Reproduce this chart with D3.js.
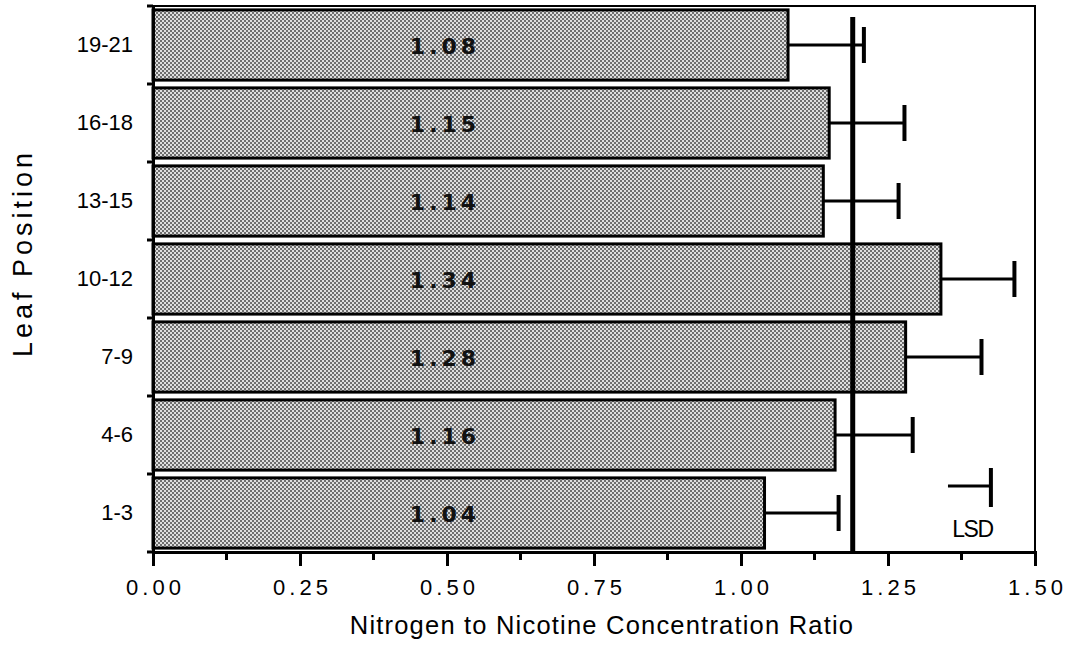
<!DOCTYPE html>
<html>
<head>
<meta charset="utf-8">
<script src="https://cdn.jsdelivr.net/npm/d3@7"></script>
<style>
  body { margin: 0; background: #fff; }
  svg { display: block; font-family: "Liberation Sans", Arial, Helvetica, sans-serif; }
</style>
</head>
<body>
<div id="chart"></div>
<script>
// data, top to bottom as drawn
const positions = ["19-21", "16-18", "13-15", "10-12", "7-9", "4-6", "1-3"];
const ratios = [1.08, 1.15, 1.14, 1.34, 1.28, 1.16, 1.04];
const errors = [0.129, 0.128, 0.128, 0.125, 0.129, 0.132, 0.126];
const xTicks = [0, 0.25, 0.5, 0.75, 1.0, 1.25, 1.5];
const xMinorTicks = [0.125, 0.375, 0.625, 0.875, 1.125, 1.375];
const meanLine = 1.19;
const lsd = 0.073;
const lsdEnd = 1.425;
const valueLabelAt = 0.5;

const width = 1069, height = 649;
const margin = { top: 6, right: 34, bottom: 97, left: 153 };
const regular = "'Liberation Sans', Arial, sans-serif";

const svg = d3
  .select("#chart")
  .append("svg")
  .attr("width", width)
  .attr("height", height);

// dithered grey fill like the scanned halftone
const defs = svg.append("defs");
const pat = defs
  .append("pattern")
  .attr("id", "dots")
  .attr("patternUnits", "userSpaceOnUse")
  .attr("width", 4)
  .attr("height", 4);
pat.append("rect").attr("width", 4).attr("height", 4).attr("fill", "#dedede");
pat.append("rect").attr("width", 2).attr("height", 2).attr("fill", "#6e6e6e");
pat.append("rect").attr("x", 2).attr("y", 2).attr("width", 2).attr("height", 2).attr("fill", "#6e6e6e");

const x = d3
  .scaleLinear()
  .domain([0, 1.5])
  .range([margin.left, width - margin.right]);

const y = d3
  .scaleBand()
  .domain(positions)
  .range([margin.top, height - margin.bottom])
  .paddingInner(0.1)
  .paddingOuter(0.05);

const step = y.step();
const bottomY = height - margin.bottom;

// frame: top and right border
svg
  .append("path")
  .attr("d", `M${x(0)},${margin.top}H${x(1.5)}V${bottomY}`)
  .attr("fill", "none")
  .attr("stroke", "#000")
  .attr("stroke-width", 2);

// bars
const data = positions.map((p, i) => ({ pos: p, value: ratios[i], err: errors[i] }));

svg
  .append("g")
  .selectAll("rect")
  .data(data)
  .join("rect")
  .attr("x", x(0))
  .attr("y", (d) => y(d.pos))
  .attr("width", (d) => x(d.value) - x(0))
  .attr("height", y.bandwidth())
  .attr("fill", "url(#dots)")
  .attr("stroke", "#000")
  .attr("stroke-width", 3);

// value labels
svg
  .append("g")
  .selectAll("text")
  .data(data)
  .join("text")
  .attr("x", x(valueLabelAt) - 2)
  .attr("y", (d) => y(d.pos) + y.bandwidth() / 2 + 9)
  .attr("text-anchor", "middle")
  .attr("font-family", "'DejaVu Sans', sans-serif")
  .attr("font-size", 22)
  .attr("font-weight", "bold")
  .attr("letter-spacing", 4)
  .attr("fill", "#111")
  .text((d) => d.value.toFixed(2));

// error bars
const eb = svg.append("g").attr("stroke", "#000");
eb.selectAll("line.h")
  .data(data)
  .join("line")
  .attr("class", "h")
  .attr("x1", (d) => x(d.value))
  .attr("x2", (d) => x(d.value + d.err))
  .attr("y1", (d) => y(d.pos) + y.bandwidth() / 2)
  .attr("y2", (d) => y(d.pos) + y.bandwidth() / 2)
  .attr("stroke-width", 3);
eb.selectAll("line.cap")
  .data(data)
  .join("line")
  .attr("class", "cap")
  .attr("x1", (d) => x(d.value + d.err))
  .attr("x2", (d) => x(d.value + d.err))
  .attr("y1", (d) => y(d.pos) + y.bandwidth() / 2 - 18)
  .attr("y2", (d) => y(d.pos) + y.bandwidth() / 2 + 18)
  .attr("stroke-width", 4);

// vertical reference line
svg
  .append("line")
  .attr("x1", x(meanLine))
  .attr("x2", x(meanLine))
  .attr("y1", margin.top + 11)
  .attr("y2", bottomY)
  .attr("stroke", "#000")
  .attr("stroke-width", 5);

// LSD marker
const lsdY = y("1-3") + y.bandwidth() / 2 - 27;
svg
  .append("line")
  .attr("x1", x(lsdEnd - lsd))
  .attr("x2", x(lsdEnd))
  .attr("y1", lsdY)
  .attr("y2", lsdY)
  .attr("stroke", "#000")
  .attr("stroke-width", 3);
svg
  .append("line")
  .attr("x1", x(lsdEnd))
  .attr("x2", x(lsdEnd))
  .attr("y1", lsdY - 18)
  .attr("y2", lsdY + 21)
  .attr("stroke", "#000")
  .attr("stroke-width", 4);
svg
  .append("text")
  .attr("x", x(lsdEnd - lsd / 2) + 3)
  .attr("y", lsdY + 51)
  .attr("text-anchor", "middle")
  .style("font-family", regular)
  .style("font-size", "23px")
  .attr("letter-spacing", -1.5)
  .text("LSD");

// x axis
const xAxis = svg
  .append("g")
  .attr("transform", `translate(0,${bottomY})`)
  .call(d3.axisBottom(x).tickValues(xTicks).tickSize(14).tickFormat(d3.format(".2f")));
xAxis.select(".domain").attr("stroke-width", 3);
xAxis.selectAll(".tick line").attr("stroke-width", 3);
xAxis
  .selectAll(".tick text")
  .style("font-family", regular)
  .style("font-size", "22px")
  .attr("letter-spacing", 4)
  .attr("dx", 2)
  .attr("dy", "1.2em")
  .attr("fill", "#000");

svg
  .append("g")
  .selectAll("line")
  .data(xMinorTicks)
  .join("line")
  .attr("x1", (d) => x(d))
  .attr("x2", (d) => x(d))
  .attr("y1", bottomY)
  .attr("y2", bottomY + 8)
  .attr("stroke", "#000")
  .attr("stroke-width", 3);

// y axis: ticks sit in the gaps between bars
const yAxis = svg
  .append("g")
  .attr("transform", `translate(${x(0)},0)`)
  .call(d3.axisLeft(y).tickSize(0).tickPadding(20));
yAxis.select(".domain").attr("stroke-width", 3);
yAxis
  .selectAll(".tick text")
  .style("font-family", regular)
  .style("font-size", "22px")
  .attr("fill", "#000");

const boundaries = positions.map((p) => y(p) - (step * y.paddingInner()) / 2);
boundaries[0] = margin.top;
boundaries.push(bottomY);
svg
  .append("g")
  .selectAll("line")
  .data(boundaries)
  .join("line")
  .attr("x1", x(0) - 6)
  .attr("x2", x(0))
  .attr("y1", (d) => d)
  .attr("y2", (d) => d)
  .attr("stroke", "#000")
  .attr("stroke-width", 3);

// axis titles
svg
  .append("text")
  .attr("x", (x(0) + x(1.5)) / 2 + 8)
  .attr("y", height - 15)
  .attr("text-anchor", "middle")
  .style("font-family", regular)
  .style("font-size", "25.5px")
  .attr("letter-spacing", 1.2)
  .text("Nitrogen to Nicotine Concentration Ratio");

svg
  .append("text")
  .attr("transform", `translate(32,${253}) rotate(-90)`)
  .attr("text-anchor", "middle")
  .style("font-family", regular)
  .style("font-size", "27px")
  .attr("letter-spacing", 4)
  .text("Leaf Position");
</script>
</body>
</html>
